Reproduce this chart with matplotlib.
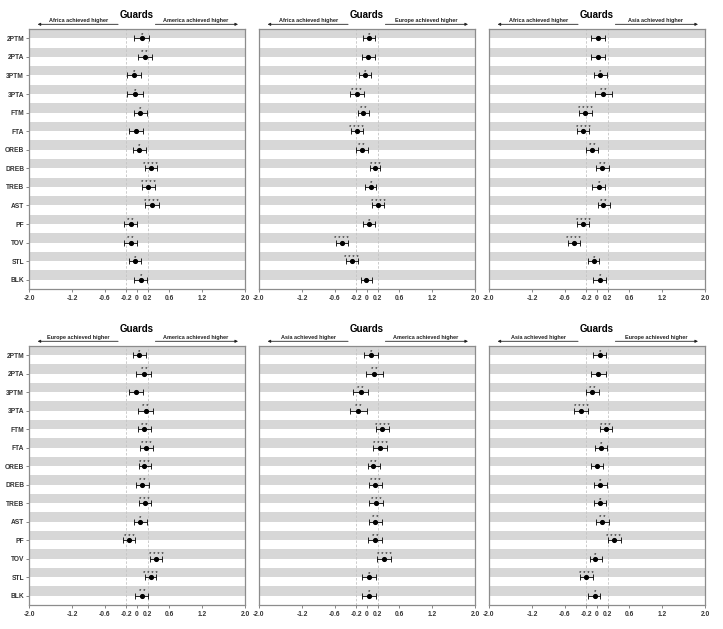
import matplotlib
matplotlib.use("Agg")
import matplotlib.pyplot as plt

plt.rcParams["font.family"] = ["Liberation Sans", "DejaVu Sans"]

stats = ["2PTM", "2PTA", "3PTM", "3PTA", "FTM", "FTA", "OREB",
         "DREB", "TREB", "AST", "PF", "TOV", "STL", "BLK"]

xticks = [-2.0, -1.2, -0.6, -0.2, 0, 0.2, 0.6, 1.2, 2.0]
xtick_labels = ["-2.0", "-1.2", "-0.6", "-0.2", "0", "0.2", "0.6", "1.2", "2.0"]

# Africa vs America
afr_ame_mean = [0.09, 0.14, -0.06, -0.04, 0.06, -0.01, 0.04, 0.25, 0.21, 0.27, -0.12, -0.12, -0.03, 0.07]
afr_ame_low = [-0.05, 0.01, -0.19, -0.19, -0.06, -0.14, -0.08, 0.14, 0.09, 0.15, -0.24, -0.24, -0.14, -0.05]
afr_ame_high = [0.22, 0.28, 0.08, 0.12, 0.19, 0.11, 0.16, 0.37, 0.33, 0.40, 0.00, 0.00, 0.08, 0.19]
afr_ame_stars = ["*", "**", "*", "*", "*", "", "*", "****", "****", "****", "**", "**", "*", "*"]

# Africa vs Europe
afr_eur_mean = [0.04, 0.01, -0.04, -0.19, -0.07, -0.19, -0.10, 0.15, 0.07, 0.21, 0.03, -0.47, -0.28, -0.01]
afr_eur_low = [-0.07, -0.10, -0.15, -0.31, -0.17, -0.30, -0.21, 0.05, -0.04, 0.10, -0.07, -0.58, -0.38, -0.12]
afr_eur_high = [0.15, 0.14, 0.07, -0.06, 0.03, -0.07, 0.01, 0.25, 0.17, 0.32, 0.14, -0.36, -0.17, 0.09]
afr_eur_stars = ["*", "", "*", "***", "**", "****", "**", "***", "*", "****", "*", "****", "****", ""]

# Africa vs Asia
afr_asi_mean = [0.01, 0.01, 0.06, 0.12, -0.22, -0.26, -0.09, 0.10, 0.03, 0.12, -0.25, -0.43, -0.06, 0.05]
afr_asi_low = [-0.11, -0.12, -0.06, -0.03, -0.33, -0.37, -0.20, -0.01, -0.09, 0.01, -0.37, -0.54, -0.17, -0.07]
afr_asi_high = [0.14, 0.15, 0.19, 0.27, -0.10, -0.14, 0.02, 0.22, 0.15, 0.24, -0.14, -0.32, 0.04, 0.17]
afr_asi_stars = ["", "", "*", "**", "****", "****", "**", "**", "*", "**", "****", "****", "*", "*"]

# Europe vs America
eur_ame_mean = [0.04, 0.13, -0.02, 0.16, 0.13, 0.17, 0.13, 0.10, 0.14, 0.06, -0.15, 0.35, 0.25, 0.09]
eur_ame_low = [-0.08, -0.01, -0.14, 0.02, 0.01, 0.06, 0.03, -0.01, 0.03, -0.06, -0.26, 0.24, 0.14, -0.03]
eur_ame_high = [0.17, 0.26, 0.11, 0.30, 0.25, 0.30, 0.25, 0.22, 0.25, 0.19, -0.03, 0.47, 0.36, 0.20]
eur_ame_stars = ["*", "**", "", "**", "**", "***", "***", "**", "***", "*", "***", "****", "****", "**"]

# Asia vs America
asi_ame_mean = [0.07, 0.13, -0.12, -0.16, 0.28, 0.24, 0.12, 0.15, 0.17, 0.15, 0.15, 0.32, 0.03, 0.03]
asi_ame_low = [-0.06, -0.01, -0.26, -0.31, 0.16, 0.12, 0.01, 0.03, 0.04, 0.03, 0.02, 0.19, -0.09, -0.09]
asi_ame_high = [0.21, 0.29, 0.01, 0.00, 0.41, 0.37, 0.25, 0.28, 0.30, 0.28, 0.27, 0.44, 0.16, 0.16]
asi_ame_stars = ["*", "**", "**", "**", "****", "****", "**", "***", "***", "**", "**", "****", "*", "*"]

# Asia vs Europe
asi_eur_mean = [0.05, 0.02, -0.09, -0.29, 0.16, 0.08, 0.00, 0.06, 0.05, 0.10, 0.31, -0.03, -0.20, -0.04]
asi_eur_low = [-0.07, -0.11, -0.20, -0.42, 0.05, -0.03, -0.11, -0.06, -0.06, -0.02, 0.20, -0.13, -0.31, -0.16]
asi_eur_high = [0.17, 0.16, 0.03, -0.16, 0.28, 0.19, 0.12, 0.18, 0.17, 0.22, 0.44, 0.09, -0.08, 0.06]
asi_eur_stars = ["*", "", "**", "****", "***", "*", "", "*", "*", "**", "****", "*", "****", "*"]

panels = [
    (afr_ame_mean, afr_ame_low, afr_ame_high, afr_ame_stars, "Africa", "America"),
    (afr_eur_mean, afr_eur_low, afr_eur_high, afr_eur_stars, "Africa", "Europe"),
    (afr_asi_mean, afr_asi_low, afr_asi_high, afr_asi_stars, "Africa", "Asia"),
    (eur_ame_mean, eur_ame_low, eur_ame_high, eur_ame_stars, "Europe", "America"),
    (asi_ame_mean, asi_ame_low, asi_ame_high, asi_ame_stars, "Asia", "America"),
    (asi_eur_mean, asi_eur_low, asi_eur_high, asi_eur_stars, "Asia", "Europe"),
]


def draw_panel(ax, mean, low, high, stars, left, right, show_y, title_pad):
    n = len(stats)
    ypos = list(range(n))
    for i in ypos:
        ax.axhspan(i - 0.5, i, color="#d7d7d7", lw=0, zorder=0)
    for xv in (-0.2, 0.2):
        ax.axvline(xv, color="#c4c4c4", lw=0.6, ls=(0, (3, 2)), zorder=1)
    xerr = [[m - lo for m, lo in zip(mean, low)], [hi - m for m, hi in zip(mean, high)]]
    ax.errorbar(mean, ypos, xerr=xerr, fmt="o", color="black", ms=2.7,
                elinewidth=0.6, capsize=2.0, capthick=0.6, zorder=3)
    for m, y, s in zip(mean, ypos, stars):
        if s:
            ax.annotate(" ".join(s), (m, y), xytext=(0, 1.0), textcoords="offset points",
                        ha="center", va="bottom", fontsize=4.4, zorder=4)
    ax.set_xlim(-2.0, 2.0)
    ax.set_ylim(n - 0.5, -0.5)
    ax.set_xticks(xticks)
    ax.set_xticklabels(xtick_labels, fontsize=4.8, fontweight="bold", color="#333333")
    ax.tick_params(axis="x", length=2, width=0.5, color="#555555", pad=2)
    if show_y:
        ax.set_yticks(ypos)
        ax.set_yticklabels(stats, fontsize=4.8, fontweight="bold", color="#333333")
        ax.tick_params(axis="y", length=2, width=0.5, color="#555555", pad=1.5)
    else:
        ax.set_yticks([])
    for sp in ax.spines.values():
        sp.set_color("#8c8c8c")
        sp.set_linewidth(0.9)

    ax.set_title("Guards", fontsize=7, fontweight="bold", pad=title_pad)
    tr = ax.get_xaxis_transform()
    ax.annotate("", xy=(-1.84, 1.018), xytext=(-0.35, 1.018), xycoords=tr, textcoords=tr,
                arrowprops=dict(arrowstyle="-|>", color="#222222", lw=0.6,
                                mutation_scale=4, shrinkA=0, shrinkB=0),
                annotation_clip=False)
    ax.annotate("", xy=(1.87, 1.018), xytext=(0.34, 1.018), xycoords=tr, textcoords=tr,
                arrowprops=dict(arrowstyle="-|>", color="#222222", lw=0.6,
                                mutation_scale=4, shrinkA=0, shrinkB=0),
                annotation_clip=False)
    ax.text(-1.09, 1.031, left + " achieved higher", transform=tr, ha="center", va="center",
            fontsize=4.0, fontweight="bold", color="#222222")
    ax.text(1.09, 1.031, right + " achieved higher", transform=tr, ha="center", va="center",
            fontsize=4.0, fontweight="bold", color="#222222")


fig = plt.figure(figsize=(7.23, 6.29), dpi=100)

lefts = [0.0401, 0.3582, 0.6763]
rows = [(0.5405, 0.4134), (0.0382, 0.4118)]
pads = [8, 10]

for k, (mean, low, high, stars, left, right) in enumerate(panels):
    r, c = divmod(k, 3)
    ax = fig.add_axes([lefts[c], rows[r][0], 0.2988, rows[r][1]])
    draw_panel(ax, mean, low, high, stars, left, right, c == 0, pads[r])

fig.savefig("out.png", dpi=100)
